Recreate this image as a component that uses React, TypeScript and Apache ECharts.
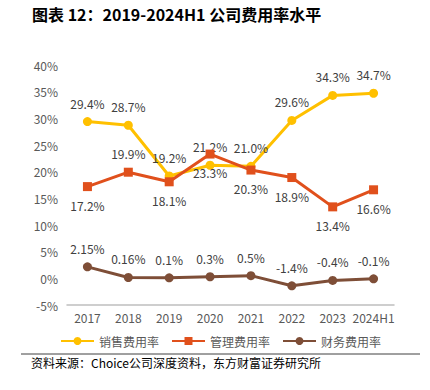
import React, { useEffect, useRef } from "react";
import * as echarts from "echarts";

const categories = ["2017", "2018", "2019", "2020", "2021", "2022", "2023", "2024H1"];
const salesRate = [29.4, 28.7, 19.2, 21.2, 21.0, 29.6, 34.3, 34.7];
const salesLabels = ["29.4%", "28.7%", "19.2%", "21.2%", "21.0%", "29.6%", "34.3%", "34.7%"];
const mgmtRate = [17.2, 19.9, 18.1, 23.3, 20.3, 18.9, 13.4, 16.6];
const mgmtLabels = ["17.2%", "19.9%", "18.1%", "23.3%", "20.3%", "18.9%", "13.4%", "16.6%"];
const mgmtLabelPos = ["bottom", "top", "bottom", "bottom", "bottom", "bottom", "bottom", "bottom"];
const finRate = [2.15, 0.16, 0.1, 0.3, 0.5, -1.4, -0.4, -0.1];
const finLabels = ["2.15%", "0.16%", "0.1%", "0.3%", "0.5%", "-1.4%", "-0.4%", "-0.1%"];
const seriesNames = ["销售费用率", "管理费用率", "财务费用率"];

const FONT = "'Noto Sans CJK SC', 'Noto Sans', sans-serif";
const LABEL_COLOR = "#404040";

export default function App() {
  const ref = useRef<HTMLDivElement>(null);
  useEffect(() => {
    if (!ref.current) return;
    const chart = echarts.init(ref.current, null, { renderer: "svg" });
    const labelStyle = { color: LABEL_COLOR, fontSize: 12, fontFamily: FONT, distance: 8 };
    chart.setOption({
      animation: false,
      textStyle: { fontFamily: FONT },
      title: {
        text: "图表 12：2019-2024H1 公司费用率水平",
        left: 27,
        top: 1,
        textStyle: { fontSize: 16, fontWeight: "bold", color: "#000", fontFamily: FONT },
      },
      grid: { left: 67, right: 36, top: 65, bottom: 85 },
      legend: {
        left: 55,
        top: 330,
        itemWidth: 33,
        itemHeight: 10,
        itemGap: 12,
        textStyle: { color: "#595959", fontSize: 12, fontFamily: FONT },
        data: seriesNames,
      },
      xAxis: {
        type: "category",
        data: categories,
        boundaryGap: true,
        axisLine: { onZero: false, lineStyle: { color: "#BFBFBF", width: 1.5 } },
        axisTick: { show: false },
        axisLabel: { color: "#595959", fontSize: 12, margin: 6, interval: 0 },
      },
      yAxis: {
        type: "value",
        min: -5,
        max: 40,
        interval: 5,
        axisLine: { show: false },
        axisTick: { show: false },
        splitLine: { show: false },
        axisLabel: { color: "#595959", fontSize: 12, formatter: "{value}%", margin: 9 },
      },
      series: [
        {
          name: seriesNames[0],
          type: "line",
          data: salesRate,
          symbol: "circle",
          symbolSize: 9,
          itemStyle: { color: "#FFC000" },
          lineStyle: { width: 3, color: "#FFC000" },
          label: {
            show: true,
            position: "top",
            ...labelStyle,
            formatter: (p: any) => salesLabels[p.dataIndex],
          },
          z: 3,
        },
        {
          name: seriesNames[1],
          type: "line",
          data: mgmtRate.map((v, i) => ({
            value: v,
            label: { position: mgmtLabelPos[i] },
          })),
          symbol: "rect",
          symbolSize: 9,
          itemStyle: { color: "#E0501C" },
          lineStyle: { width: 3, color: "#E0501C" },
          label: {
            show: true,
            ...labelStyle,
            formatter: (p: any) => mgmtLabels[p.dataIndex],
          },
          z: 4,
        },
        {
          name: seriesNames[2],
          type: "line",
          data: finRate,
          symbol: "circle",
          symbolSize: 9,
          itemStyle: { color: "#7E4E37" },
          lineStyle: { width: 3, color: "#7E4E37" },
          label: {
            show: true,
            position: "top",
            ...labelStyle,
            formatter: (p: any) => finLabels[p.dataIndex],
          },
          z: 3,
        },
      ],
      graphic: [
        {
          type: "line",
          shape: { x1: 21, y1: 354, x2: 420, y2: 354 },
          style: { stroke: "#404040", lineWidth: 1 },
        },
        {
          type: "text",
          x: 31,
          y: 356,
          style: {
            text: "资料来源：Choice公司深度资料，东方财富证券研究所",
            fontSize: 12,
            fill: "#000",
            fontFamily: FONT,
          },
        },
      ],
    });
    return () => chart.dispose();
  }, []);
  return (
    <div
      ref={ref}
      style={{ position: "fixed", left: 0, top: 0, width: 430, height: 390, background: "#fff" }}
    />
  );
}
